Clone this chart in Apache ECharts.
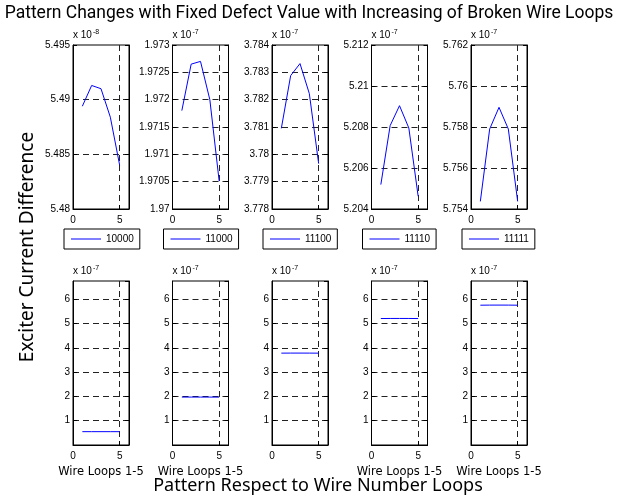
<!DOCTYPE html>
<html>
<head>
<meta charset="utf-8">
<script src="https://cdn.jsdelivr.net/npm/echarts@6/dist/echarts.min.js"></script>
<style>
  html, body { margin: 0; padding: 0; background: #fff; }
  #main { width: 618px; height: 504px; }
</style>
</head>
<body>
<div id="main"></div>
<script>
// data
const loops = [1, 2, 3, 4, 5];
const patterns = ['10000', '11000', '11100', '11110', '11111'];
const diff10000 = [5.4894e-8, 5.4913e-8, 5.4910e-8, 5.4884e-8, 5.4840e-8];
const diff11000 = [1.9718e-7, 1.97265e-7, 1.9727e-7, 1.9720e-7, 1.97051e-7];
const diff11100 = [3.78095e-7, 3.78288e-7, 3.78332e-7, 3.78222e-7, 3.77966e-7];
const diff11110 = [5.20519e-7, 5.20807e-7, 5.20904e-7, 5.20795e-7, 5.20462e-7];
const diff11111 = [5.75437e-7, 5.7579e-7, 5.75896e-7, 5.7579e-7, 5.75437e-7];
const allDiffs = [diff10000, diff11000, diff11100, diff11110, diff11111];

// axis ticks for the upper (zoomed) plots
const topExp = [-8, -7, -7, -7, -7];
const topMin = [5.48, 1.970, 3.778, 5.204, 5.754];
const topMax = [5.495, 1.973, 3.784, 5.212, 5.762];
const topStep = [0.005, 0.0005, 0.001, 0.002, 0.002];
// lower plots share one scale
const lowExp = -7;
const lowMin = 0, lowMax = 6.75, lowStep = 1;
const xMin = 0, xMax = 6, xStep = 5;

function chart() {
    let myChart = echarts.init(document.querySelector('#main'));
    const lefts = [73, 172.5, 272, 371.5, 471];
    const w = 56, h = 164;
    const tickFont = { fontFamily: 'Liberation Sans', fontSize: 10, color: '#000' };
    const dash = { color: '#222', type: [6, 4], width: 1 };

    let grid = [], xAxis = [], yAxis = [], series = [], legend = [];

    function expName(e) {
        return '{a|x 10}{b|' + e + '}';
    }
    function expStyle() {
        return {
            align: 'left',
            rich: {
                a: { fontFamily: 'Liberation Sans', fontSize: 10, color: '#000' },
                b: { fontFamily: 'Liberation Sans', fontSize: 7, color: '#000', padding: [0, 0, 6, 1] }
            }
        };
    }

    function addPlot(i, top, yMin, yMax, yStep, exp, data, xName) {
        let g = grid.length;
        grid.push({ left: lefts[i], top: top, width: w, height: h, show: true, borderColor: '#000', borderWidth: 1 });
        xAxis.push({
            type: 'value', gridIndex: g, min: xMin, max: xMax, interval: xStep,
            name: xName, nameLocation: 'middle', nameGap: 21,
            nameTextStyle: { fontFamily: 'DejaVu Sans', fontSize: 11.5, color: '#000' },
            axisLine: { lineStyle: { color: '#000' } },
            axisTick: { inside: true, length: 4, lineStyle: { color: '#000' } },
            axisLabel: Object.assign({ margin: 6, showMaxLabel: false }, tickFont),
            splitLine: { show: true, showMinLine: false, showMaxLine: false, lineStyle: dash }
        });
        yAxis.push({
            type: 'value', gridIndex: g, min: yMin, max: yMax, interval: yStep,
            name: expName(exp), nameLocation: 'end', nameGap: 3, nameTextStyle: expStyle(),
            axisLine: { lineStyle: { color: '#000' } },
            axisTick: { inside: true, length: 4, lineStyle: { color: '#000' } },
            axisLabel: Object.assign({ margin: 3, showMinLabel: yMin !== 0, showMaxLabel: yMin !== 0 }, tickFont),
            splitLine: { show: true, showMinLine: false, showMaxLine: false, lineStyle: dash }
        });
        // mirrored ticks on the right side of the box
        yAxis.push({
            type: 'value', gridIndex: g, position: 'right', min: yMin, max: yMax, interval: yStep,
            axisLine: { show: true, lineStyle: { color: '#000' } },
            axisTick: { show: true, inside: true, length: 4, lineStyle: { color: '#000' } },
            axisLabel: { show: false }, splitLine: { show: false }
        });
        let scale = Math.pow(10, exp);
        series.push({
            name: patterns[i], type: 'line', xAxisIndex: g, yAxisIndex: yAxis.length - 2,
            symbol: 'none', silent: true,
            lineStyle: { color: '#0000ff', width: 1 }, itemStyle: { color: '#0000ff' },
            data: loops.map((x, k) => [x, data[k] / scale])
        });
    }

    for (let i = 0; i < 5; i++) {
        addPlot(i, 45, topMin[i], topMax[i], topStep[i], topExp[i], allDiffs[i], '');
        legend.push({
            data: [patterns[i]], left: lefts[i] - 9, top: 229,
            orient: 'horizontal', selectedMode: false,
            borderColor: '#000', borderWidth: 1, padding: [5, 6, 5, 7],
            icon: 'rect', itemWidth: 30, itemHeight: 1, itemGap: 4,
            textStyle: { fontFamily: 'Liberation Sans', fontSize: 10, color: '#000' }
        });
    }
    for (let i = 0; i < 5; i++) {
        addPlot(i, 281, lowMin, lowMax, lowStep, lowExp, allDiffs[i], i === 2 ? '' : 'Wire Loops 1-5');
    }

    let option = {
        animation: false,
        title: {
            text: 'Pattern Changes with Fixed Defect Value with Increasing of Broken Wire Loops',
            left: 'center', top: 0,
            textStyle: { fontFamily: 'Roboto', fontSize: 17.5, fontWeight: 'normal', color: '#000' }
        },
        graphic: [
            {
                type: 'text', x: 18, y: 247, rotation: Math.PI / 2,
                style: { text: 'Exciter Current Difference', font: '19px "Noto Sans"', fill: '#000', align: 'center', verticalAlign: 'top' }
            },
            {
                type: 'text', x: 318, y: 486,
                style: { text: 'Pattern Respect to Wire Number Loops', font: '18px "Noto Sans"', fill: '#000', align: 'center', verticalAlign: 'middle' }
            }
        ],
        legend: legend,
        grid: grid,
        xAxis: xAxis,
        yAxis: yAxis,
        series: series
    };
    myChart.setOption(option);
}
chart();
</script>
</body>
</html>
